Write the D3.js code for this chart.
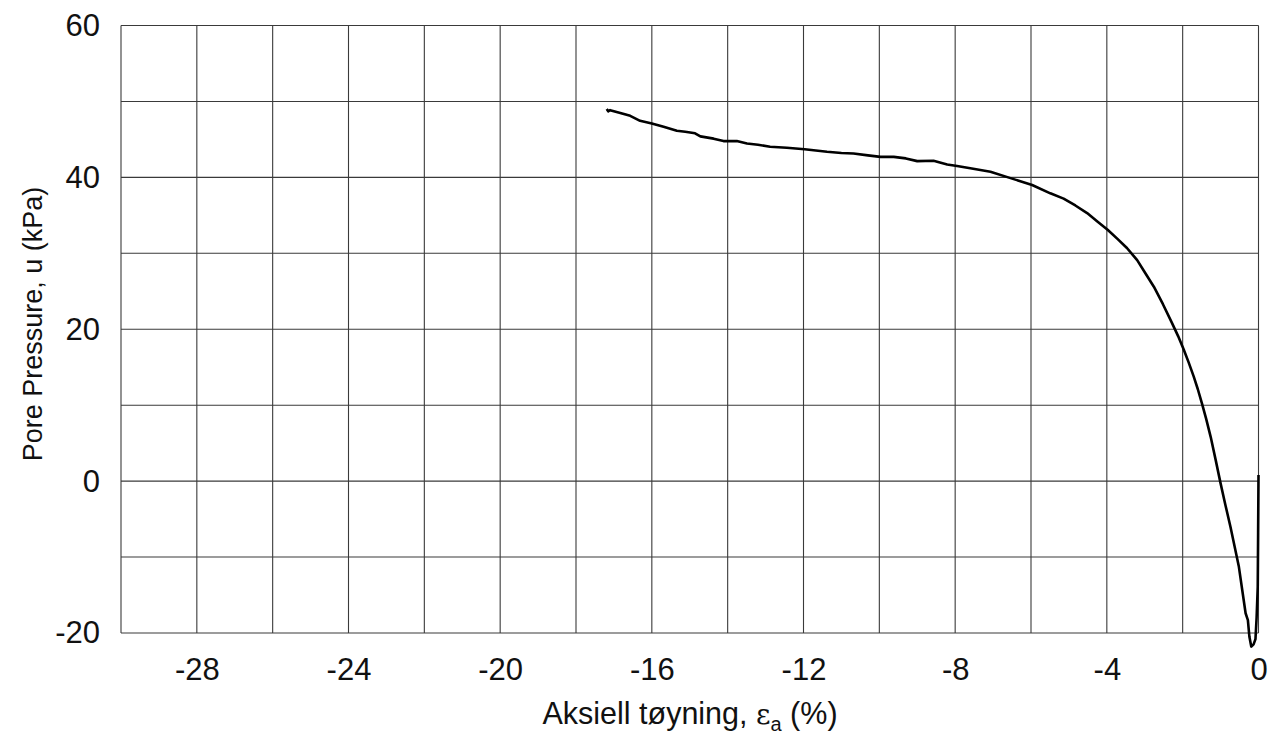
<!DOCTYPE html>
<html>
<head>
<meta charset="utf-8">
<script src="https://cdn.jsdelivr.net/npm/d3@7"></script>
<style>
  html, body { margin: 0; padding: 0; background: #fff; }
  svg { display: block; }
  text { font-family: "Liberation Sans", Arial, sans-serif; fill: #111; }
</style>
</head>
<body>
<svg id="chart" width="1281" height="742"></svg>
<script>
// Axial strain (%) and pore pressure (kPa)
const strain = [0.0, -0.01, -0.02, -0.05, -0.08, -0.13, -0.19, -0.24, -0.28, -0.34, -0.43, -0.52, -0.63, -0.74, -0.87, -1.0,
  -1.13, -1.26, -1.38, -1.49, -1.60, -1.71, -1.84, -1.97, -2.12, -2.28, -2.52, -2.76, -3.0, -3.20, -3.47, -3.72, -3.98,
  -4.25, -4.52, -4.83, -5.14, -5.49, -5.97, -6.54, -7.07, -7.6, -7.95, -8.21, -8.57, -9.0, -9.3, -9.62, -9.97, -10.3,
  -10.68, -11.0, -11.38, -11.97, -12.44, -12.88, -13.2, -13.49, -13.76, -14.11, -14.37, -14.72, -14.86, -15.12, -15.34,
  -15.69, -16.0, -16.31, -16.57, -16.88, -17.10, -17.15, -17.19];
const porePressure = [0.8, -6.8, -13.9, -18.0, -20.8, -21.5, -21.8, -20.5, -18.3, -17.4, -14.3, -11.2, -8.6, -6.0, -3.2, -0.3,
  2.8, 5.8, 8.2, 10.2, 12.1, 13.8, 15.6, 17.3, 19.1, 20.8, 23.3, 25.6, 27.5, 29.1, 30.7, 31.9, 33.1,
  34.2, 35.3, 36.3, 37.2, 37.9, 39.0, 39.9, 40.75, 41.2, 41.5, 41.7, 42.18, 42.14, 42.5, 42.7, 42.7, 42.9,
  43.15, 43.2, 43.37, 43.7, 43.9, 44.03, 44.3, 44.47, 44.78, 44.78, 45.1, 45.4, 45.8, 46.0, 46.13,
  46.66, 47.1, 47.45, 48.1, 48.55, 48.85, 48.7, 49.0];

const xTicks = [-28, -24, -20, -16, -12, -8, -4, 0];
const yTicks = [-20, 0, 20, 40, 60];
const xGrid = d3.range(-30, 0.1, 2);
const yGrid = d3.range(-20, 60.1, 10);
const xTitle = "Aksiell tøyning, ";
const yTitle = "Pore Pressure, u (kPa)";

const W = 1281, H = 742;
const m = { left: 121, top: 25.5, right: W - 1258.5, bottom: H - 633 };
const svg = d3.select("#chart");

const x = d3.scaleLinear().domain([-30, 0]).range([m.left, W - m.right]);
const y = d3.scaleLinear().domain([-20, 60]).range([H - m.bottom, m.top]);

const gridColor = "#3a3a3a";
const fmt = d => String(d);

// grid
svg.append("g").selectAll("line").data(xGrid).join("line")
  .attr("x1", d => x(d)).attr("x2", d => x(d))
  .attr("y1", y(-20)).attr("y2", y(60))
  .attr("stroke", gridColor).attr("stroke-width", 1.1);
svg.append("g").selectAll("line").data(yGrid).join("line")
  .attr("x1", x(-30)).attr("x2", x(0))
  .attr("y1", d => y(d)).attr("y2", d => y(d))
  .attr("stroke", gridColor).attr("stroke-width", 1.1);

// axes (labels only, via d3 axis)
const xAxis = svg.append("g")
  .attr("transform", `translate(0,${y(-20)})`)
  .call(d3.axisBottom(x).tickValues(xTicks).tickSize(0).tickPadding(25).tickFormat(fmt));
xAxis.select(".domain").remove();
xAxis.selectAll("text").style("font-size", "31px").attr("fill", "#111");

const yAxis = svg.append("g")
  .attr("transform", `translate(${x(-30)},0)`)
  .call(d3.axisLeft(y).tickValues(yTicks).tickSize(0).tickPadding(21).tickFormat(fmt));
yAxis.select(".domain").remove();
yAxis.selectAll("text").style("font-size", "31px").attr("fill", "#111");

// curve
const pts = strain.map((s, i) => [s, porePressure[i]]);
svg.append("path")
  .datum(pts)
  .attr("fill", "none")
  .attr("stroke", "#000")
  .attr("stroke-width", 2.6)
  .attr("stroke-linejoin", "round")
  .attr("d", d3.line().x(d => x(d[0])).y(d => y(d[1])));

// axis titles
const xt = svg.append("text")
  .attr("x", 690)
  .attr("y", 724)
  .attr("text-anchor", "middle")
  .style("font-size", "30.5px");
xt.append("tspan").text(xTitle);
xt.append("tspan").text("ε").style("font-family", "'DejaVu Serif', serif").style("font-size", "28px");
xt.append("tspan").text("a").attr("dy", 7).style("font-size", "20px");
xt.append("tspan").text(" (%)").attr("dy", -7);

svg.append("text")
  .attr("transform", `translate(42,${324}) rotate(-90)`)
  .attr("text-anchor", "middle")
  .style("font-size", "27px")
  .text(yTitle);
</script>
</body>
</html>
